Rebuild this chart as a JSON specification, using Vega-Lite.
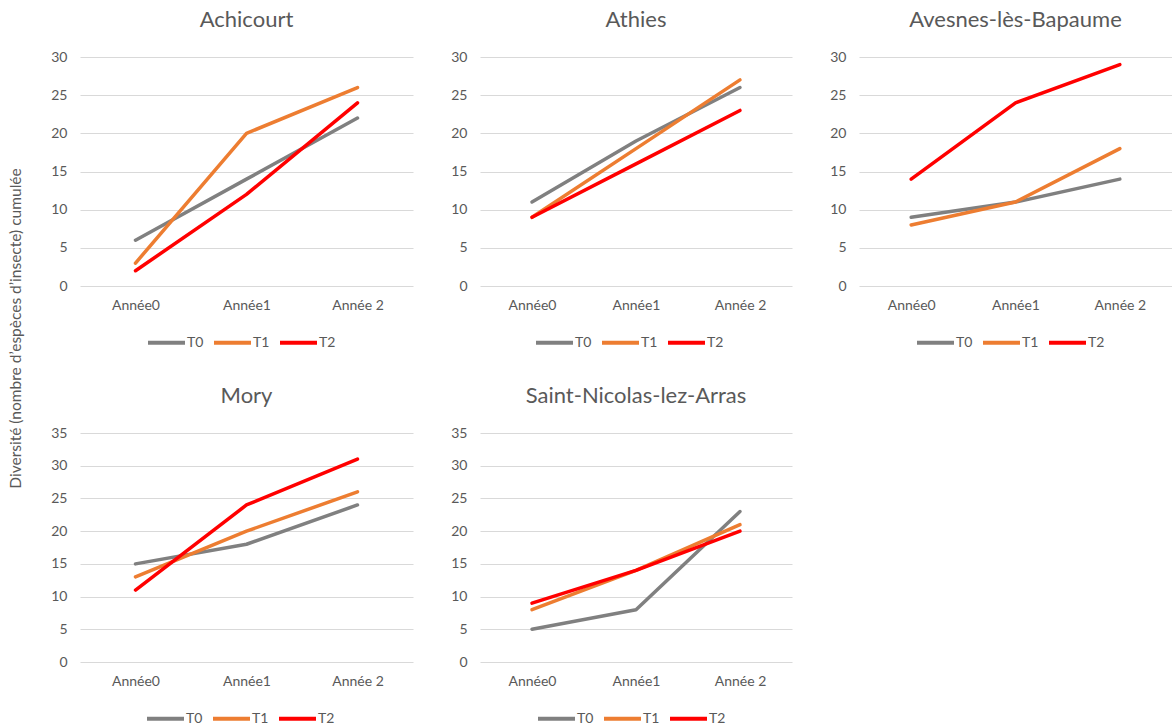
{
  "$schema": "https://vega.github.io/schema/vega-lite/v6.json",
  "background": "white",
  "padding": {"left": 8, "top": 9, "right": 0, "bottom": 4},
  "bounds": "flush",
  "columns": 3,
  "spacing": {"row": 147, "column": 67},
  "data": {
    "values": [
      {"site": "Achicourt", "annee": "Année0", "traitement": "T0", "diversite": 6},
      {"site": "Achicourt", "annee": "Année1", "traitement": "T0", "diversite": 14},
      {"site": "Achicourt", "annee": "Année 2", "traitement": "T0", "diversite": 22},
      {"site": "Achicourt", "annee": "Année0", "traitement": "T1", "diversite": 3},
      {"site": "Achicourt", "annee": "Année1", "traitement": "T1", "diversite": 20},
      {"site": "Achicourt", "annee": "Année 2", "traitement": "T1", "diversite": 26},
      {"site": "Achicourt", "annee": "Année0", "traitement": "T2", "diversite": 2},
      {"site": "Achicourt", "annee": "Année1", "traitement": "T2", "diversite": 12},
      {"site": "Achicourt", "annee": "Année 2", "traitement": "T2", "diversite": 24},
      {"site": "Athies", "annee": "Année0", "traitement": "T0", "diversite": 11},
      {"site": "Athies", "annee": "Année1", "traitement": "T0", "diversite": 19},
      {"site": "Athies", "annee": "Année 2", "traitement": "T0", "diversite": 26},
      {"site": "Athies", "annee": "Année0", "traitement": "T1", "diversite": 9},
      {"site": "Athies", "annee": "Année1", "traitement": "T1", "diversite": 18},
      {"site": "Athies", "annee": "Année 2", "traitement": "T1", "diversite": 27},
      {"site": "Athies", "annee": "Année0", "traitement": "T2", "diversite": 9},
      {"site": "Athies", "annee": "Année1", "traitement": "T2", "diversite": 16},
      {"site": "Athies", "annee": "Année 2", "traitement": "T2", "diversite": 23},
      {"site": "Avesnes-lès-Bapaume", "annee": "Année0", "traitement": "T0", "diversite": 9},
      {"site": "Avesnes-lès-Bapaume", "annee": "Année1", "traitement": "T0", "diversite": 11},
      {"site": "Avesnes-lès-Bapaume", "annee": "Année 2", "traitement": "T0", "diversite": 14},
      {"site": "Avesnes-lès-Bapaume", "annee": "Année0", "traitement": "T1", "diversite": 8},
      {"site": "Avesnes-lès-Bapaume", "annee": "Année1", "traitement": "T1", "diversite": 11},
      {"site": "Avesnes-lès-Bapaume", "annee": "Année 2", "traitement": "T1", "diversite": 18},
      {"site": "Avesnes-lès-Bapaume", "annee": "Année0", "traitement": "T2", "diversite": 14},
      {"site": "Avesnes-lès-Bapaume", "annee": "Année1", "traitement": "T2", "diversite": 24},
      {"site": "Avesnes-lès-Bapaume", "annee": "Année 2", "traitement": "T2", "diversite": 29},
      {"site": "Mory", "annee": "Année0", "traitement": "T0", "diversite": 15},
      {"site": "Mory", "annee": "Année1", "traitement": "T0", "diversite": 18},
      {"site": "Mory", "annee": "Année 2", "traitement": "T0", "diversite": 24},
      {"site": "Mory", "annee": "Année0", "traitement": "T1", "diversite": 13},
      {"site": "Mory", "annee": "Année1", "traitement": "T1", "diversite": 20},
      {"site": "Mory", "annee": "Année 2", "traitement": "T1", "diversite": 26},
      {"site": "Mory", "annee": "Année0", "traitement": "T2", "diversite": 11},
      {"site": "Mory", "annee": "Année1", "traitement": "T2", "diversite": 24},
      {"site": "Mory", "annee": "Année 2", "traitement": "T2", "diversite": 31},
      {"site": "Saint-Nicolas-lez-Arras", "annee": "Année0", "traitement": "T0", "diversite": 5},
      {"site": "Saint-Nicolas-lez-Arras", "annee": "Année1", "traitement": "T0", "diversite": 8},
      {"site": "Saint-Nicolas-lez-Arras", "annee": "Année 2", "traitement": "T0", "diversite": 23},
      {"site": "Saint-Nicolas-lez-Arras", "annee": "Année0", "traitement": "T1", "diversite": 8},
      {"site": "Saint-Nicolas-lez-Arras", "annee": "Année1", "traitement": "T1", "diversite": 14},
      {"site": "Saint-Nicolas-lez-Arras", "annee": "Année 2", "traitement": "T1", "diversite": 21},
      {"site": "Saint-Nicolas-lez-Arras", "annee": "Année0", "traitement": "T2", "diversite": 9},
      {"site": "Saint-Nicolas-lez-Arras", "annee": "Année1", "traitement": "T2", "diversite": 14},
      {"site": "Saint-Nicolas-lez-Arras", "annee": "Année 2", "traitement": "T2", "diversite": 20}
    ]
  },
  "resolve": {"scale": {"color": "independent", "y": "independent", "x": "independent"}, "legend": {"color": "independent"}},
  "concat": [
    {
      "title": "Achicourt",
      "width": 333, "height": 229,
      "transform": [{"filter": "datum.site === 'Achicourt'"}],
      "mark": {"type": "line", "strokeWidth": 3.5, "strokeCap": "round", "strokeJoin": "round"},
      "encoding": {
        "x": {"field": "annee", "type": "nominal", "sort": ["Année0", "Année1", "Année 2"], "axis": {"title": null}},
        "y": {"field": "diversite", "type": "quantitative", "scale": {"domain": [0, 30]}, "axis": {"title": "Diversité (nombre d’espèces d’insecte) cumulée", "titleY": 271, "titlePadding": 27, "values": [0, 5, 10, 15, 20, 25, 30]}},
        "color": {"field": "traitement", "type": "nominal", "scale": {"domain": ["T0", "T1", "T2"], "range": ["#808080", "#ED7D31", "#FF0000"]}, "legend": {"legendX": 66, "legendY": 265}}
      }
    },
    {
      "title": "Athies",
      "width": 312, "height": 229,
      "transform": [{"filter": "datum.site === 'Athies'"}],
      "mark": {"type": "line", "strokeWidth": 3.5, "strokeCap": "round", "strokeJoin": "round"},
      "encoding": {
        "x": {"field": "annee", "type": "nominal", "sort": ["Année0", "Année1", "Année 2"], "axis": {"title": null}},
        "y": {"field": "diversite", "type": "quantitative", "scale": {"domain": [0, 30]}, "axis": {"title": null, "values": [0, 5, 10, 15, 20, 25, 30]}},
        "color": {"field": "traitement", "type": "nominal", "scale": {"domain": ["T0", "T1", "T2"], "range": ["#808080", "#ED7D31", "#FF0000"]}, "legend": {"legendX": 54, "legendY": 265}}
      }
    },
    {
      "title": "Avesnes-lès-Bapaume",
      "width": 313, "height": 229,
      "transform": [{"filter": "datum.site === 'Avesnes-lès-Bapaume'"}],
      "mark": {"type": "line", "strokeWidth": 3.5, "strokeCap": "round", "strokeJoin": "round"},
      "encoding": {
        "x": {"field": "annee", "type": "nominal", "sort": ["Année0", "Année1", "Année 2"], "axis": {"title": null}},
        "y": {"field": "diversite", "type": "quantitative", "scale": {"domain": [0, 30]}, "axis": {"title": null, "values": [0, 5, 10, 15, 20, 25, 30]}},
        "color": {"field": "traitement", "type": "nominal", "scale": {"domain": ["T0", "T1", "T2"], "range": ["#808080", "#ED7D31", "#FF0000"]}, "legend": {"legendX": 56, "legendY": 265}}
      }
    },
    {
      "title": "Mory",
      "width": 333, "height": 229,
      "transform": [{"filter": "datum.site === 'Mory'"}],
      "mark": {"type": "line", "strokeWidth": 3.5, "strokeCap": "round", "strokeJoin": "round"},
      "encoding": {
        "x": {"field": "annee", "type": "nominal", "sort": ["Année0", "Année1", "Année 2"], "axis": {"title": null}},
        "y": {"field": "diversite", "type": "quantitative", "scale": {"domain": [0, 35]}, "axis": {"title": null, "values": [0, 5, 10, 15, 20, 25, 30, 35]}},
        "color": {"field": "traitement", "type": "nominal", "scale": {"domain": ["T0", "T1", "T2"], "range": ["#808080", "#ED7D31", "#FF0000"]}, "legend": {"legendX": 65, "legendY": 265}}
      }
    },
    {
      "title": "Saint-Nicolas-lez-Arras",
      "width": 312, "height": 229,
      "transform": [{"filter": "datum.site === 'Saint-Nicolas-lez-Arras'"}],
      "mark": {"type": "line", "strokeWidth": 3.5, "strokeCap": "round", "strokeJoin": "round"},
      "encoding": {
        "x": {"field": "annee", "type": "nominal", "sort": ["Année0", "Année1", "Année 2"], "axis": {"title": null}},
        "y": {"field": "diversite", "type": "quantitative", "scale": {"domain": [0, 35]}, "axis": {"title": null, "values": [0, 5, 10, 15, 20, 25, 30, 35]}},
        "color": {"field": "traitement", "type": "nominal", "scale": {"domain": ["T0", "T1", "T2"], "range": ["#808080", "#ED7D31", "#FF0000"]}, "legend": {"legendX": 56, "legendY": 265}}
      }
    }
  ],
  "config": {
    "font": "Lato",
    "view": {"stroke": null},
    "scale": {"pointPadding": 0.5},
    "title": {"fontSize": 22, "fontWeight": "normal", "color": "#595959", "offset": 18, "anchor": "middle"},
    "axis": {
      "domain": false,
      "ticks": false,
      "labelColor": "#595959",
      "labelFontSize": 14,
      "titleColor": "#595959",
      "titleFontSize": 15.5,
      "titleFontWeight": "normal",
      "gridColor": "#D9D9D9",
      "gridWidth": 1
    },
    "axisX": {"grid": false, "labelAngle": 0, "labelPadding": 12},
    "axisY": {"grid": true, "labelPadding": 13},
    "legend": {
      "orient": "none",
      "direction": "horizontal",
      "title": null,
      "symbolType": "stroke",
      "symbolSize": 1369,
      "symbolStrokeWidth": 4,
      "labelFontSize": 14,
      "labelColor": "#595959",
      "labelOffset": 0,
      "columnPadding": 2
    }
  }
}
